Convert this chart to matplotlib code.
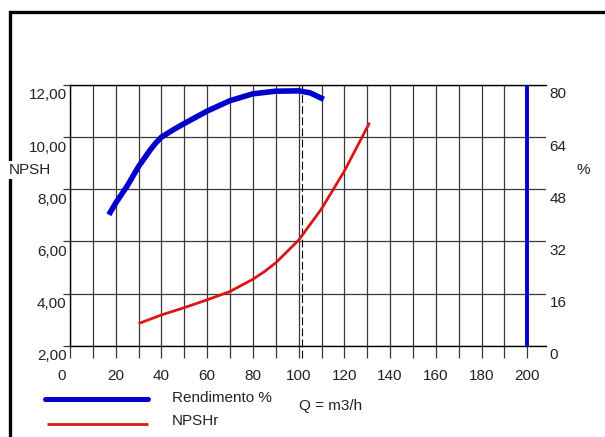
import matplotlib
matplotlib.use('Agg')
import matplotlib.pyplot as plt
from matplotlib.lines import Line2D
import matplotlib.transforms as mtrans

plt.rcParams['font.family'] = ['Liberation Sans', 'DejaVu Sans']

# ---- data ----
q_major = [0, 20, 40, 60, 80, 100, 120, 140, 160, 180, 200]
q_labels = ['0', '20', '40', '60', '80', '100', '120', '140', '160', '180', '200']
q_minor = [10, 30, 50, 70, 90, 110, 130, 150, 170, 190]
npsh_ticks = [2, 4, 6, 8, 10, 12]
npsh_labels = ['2,00', '4,00', '6,00', '8,00', '10,00', '12,00']
eff_ticks = [0, 16, 32, 48, 64, 80]
eff_labels = ['0', '16', '32', '48', '64', '80']

eff_q = [17, 20, 25, 30, 35, 37.5, 40, 45, 50, 60, 70, 80, 90, 100, 105, 111]
eff = [40.2, 43.8, 49.0, 55.0, 60.0, 62.2, 64.0, 66.2, 68.2, 72.0, 75.2, 77.3, 78.1, 78.2, 77.6, 75.6]

npsh_q = [30, 40, 50, 60, 70, 80, 85, 90, 100, 110, 120, 131]
npsh = [2.85, 3.18, 3.46, 3.76, 4.08, 4.55, 4.84, 5.18, 6.05, 7.25, 8.70, 10.55]

design_q = 101.3
eff_bar_q = 200
eff_bar = [0, 80]

# ---- style ----
W, H = 605, 437
BLUE = '#0000cc'
RED = '#dd1414'
GRID = '#383838'
TXT = '#222222'
FS = 11

fig = plt.figure(figsize=(W / 100, H / 100), dpi=100)
fig.patch.set_facecolor('white')

ax_l, ax_r, ax_t, ax_b = 70, 546, 85, 345.7
ax = fig.add_axes([ax_l / W, 1 - ax_b / H, (ax_r - ax_l) / W, (ax_b - ax_t) / H])
ax.set_xlim(0, 200 * (ax_r - ax_l) / (527.3 - ax_l))
ax.set_ylim(2, 12)

ax.set_xticks(q_major)
ax.set_xticklabels(q_labels)
ax.set_xticks(q_minor, minor=True)
ax.set_yticks(npsh_ticks)
ax.set_yticklabels(npsh_labels)

ax.grid(True, which='both', color=GRID, lw=0.9)
ax.tick_params(axis='x', which='both', direction='out', length=8.6, width=0.9,
               color=GRID, labelsize=FS, labelcolor=TXT, pad=8)
ax.tick_params(axis='y', which='both', direction='out', length=5, width=0.9,
               color=GRID, labelsize=FS, labelcolor=TXT, pad=-2.6)
ax.spines['right'].set_visible(False)
for s in ['left', 'top', 'bottom']:
    ax.spines[s].set_color('black')
    ax.spines[s].set_linewidth(1.0)

shift_y = mtrans.ScaledTranslation(0, -9 / 100, fig.dpi_scale_trans)
for lbl in ax.get_yticklabels():
    lbl.set_transform(lbl.get_transform() + shift_y)
# first x label sits a little left of its tick in the reference
xl0 = ax.get_xticklabels()[0]
xl0.set_transform(xl0.get_transform() + mtrans.ScaledTranslation(-8 / 100, 0, fig.dpi_scale_trans))

# NPSH curve
ax.plot(npsh_q, npsh, color=RED, lw=2.0, solid_capstyle='butt', zorder=3)
# design point dashed line
ax.axvline(design_q, ymin=-0.046, ymax=1, color='black', lw=0.8,
           ls=(0, (7, 3)), clip_on=False, zorder=2.5)

ax.set_ylabel('NPSH', rotation=0, fontsize=FS, color=TXT, ha='center', va='center',
              bbox=dict(facecolor='white', edgecolor='none', pad=1.5))
ax.yaxis.set_label_coords((30 - ax_l) / (ax_r - ax_l), (ax_b - 170) / (ax_b - ax_t))

# efficiency axis
ax2 = ax.twinx()
ax2.set_ylim(0, 80)
ax2.set_yticks(eff_ticks)
ax2.set_yticklabels(eff_labels)
ax2.tick_params(axis='y', length=0, labelsize=FS, labelcolor=TXT, pad=2.5)
for s in ax2.spines.values():
    s.set_visible(False)
shift_y2 = mtrans.ScaledTranslation(0, -8 / 100, fig.dpi_scale_trans)
for lbl in ax2.get_yticklabels():
    lbl.set_transform(lbl.get_transform() + shift_y2)

ax2.plot(eff_q, eff, color=BLUE, lw=4.0, solid_capstyle='butt', solid_joinstyle='round', zorder=3)
ax2.vlines(eff_bar_q, eff_bar[0], eff_bar[1], color=BLUE, lw=2.8, zorder=3)

ax2.set_ylabel('%', rotation=0, fontsize=FS, color=TXT, ha='center', va='center')
ax2.yaxis.set_label_coords((583 - ax_l) / (ax_r - ax_l), (ax_b - 170) / (ax_b - ax_t))

# frame (top and left)
fig.add_artist(Line2D([1.0, 10 / W, 10 / W], [1 - 11.7 / H, 1 - 11.7 / H, 0.0],
                      color='black', lw=2.4, solid_joinstyle='miter', zorder=-1))

# legend (manual)
fig.add_artist(Line2D([45 / W, 148 / W], [1 - 399 / H] * 2, color=BLUE, lw=3.6,
                      solid_capstyle='round'))
fig.add_artist(Line2D([47 / W, 148 / W], [1 - 424 / H] * 2, color=RED, lw=2.0,
                      solid_capstyle='butt'))
fig.text(171.5 / W, 1 - 398 / H, 'Rendimento %', fontsize=FS, color=TXT, va='center')
fig.text(171.5 / W, 1 - 421 / H, 'NPSHr', fontsize=FS, color=TXT, va='center')
fig.text(299 / W, 1 - 406 / H, 'Q = m3/h', fontsize=FS, color=TXT, va='center')

fig.savefig('out.png', dpi=100)
